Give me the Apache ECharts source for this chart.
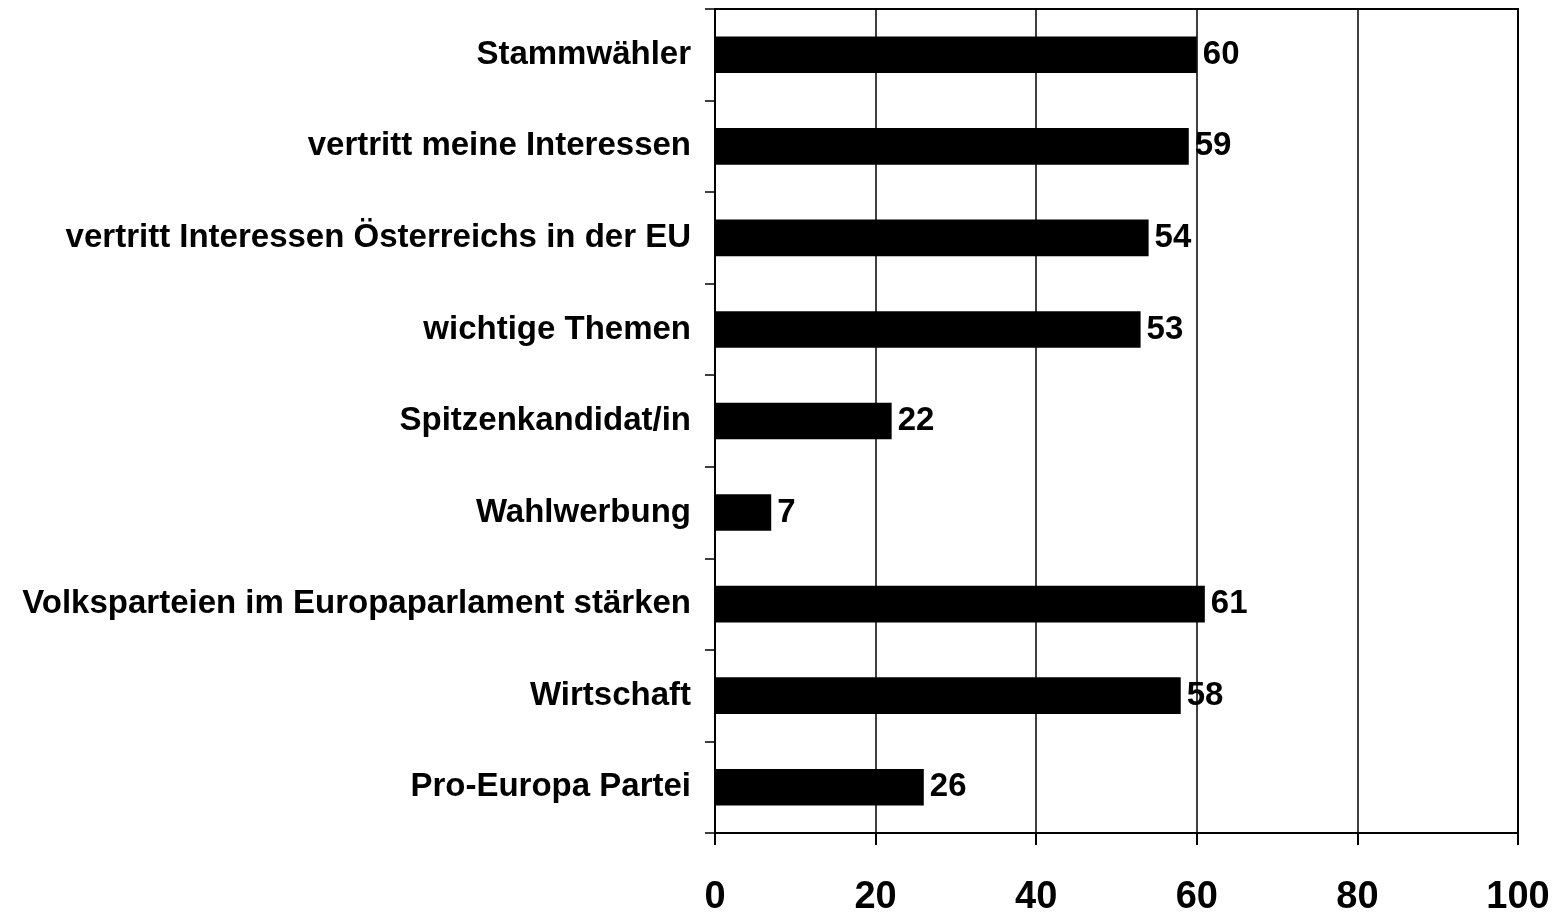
<!DOCTYPE html>
<html>
<head>
<meta charset="utf-8">
<script src="https://cdn.jsdelivr.net/npm/echarts@6/dist/echarts.min.js"></script>
<style>html,body{margin:0;padding:0;background:#fff}#c{width:1557px;height:917px}</style>
</head>
<body>
<div id="c"></div>
<script>
const categories = ["Stammwähler","vertritt meine Interessen","vertritt Interessen Österreichs in der EU","wichtige Themen","Spitzenkandidat/in","Wahlwerbung","Volksparteien im Europaparlament stärken","Wirtschaft","Pro-Europa Partei"];
const values = [60,59,54,53,22,7,61,58,26];
const xTicks = [0,20,40,60,80,100];

const chart = echarts.init(document.getElementById('c'), null, {renderer:'canvas'});
const FF = '"Liberation Sans", Arial, sans-serif';
chart.setOption({
  animation:false,
  backgroundColor:'#fff',
  grid:{left:715, top:9, right:39, bottom:80, show:true, borderColor:'#000', borderWidth:2, backgroundColor:'transparent'},
  xAxis:{
    type:'value', min:xTicks[0], max:xTicks[xTicks.length-1], interval:20,
    axisLine:{show:true, lineStyle:{color:'#000', width:2}},
    axisTick:{show:true, length:12, lineStyle:{color:'#000', width:2}},
    splitLine:{show:true, lineStyle:{color:'#000', width:1.5}},
    axisLabel:{color:'#000', fontFamily:FF, fontWeight:'bold', fontSize:38, margin:46}
  },
  yAxis:{
    type:'category', data:categories, inverse:true,
    axisLine:{show:true, lineStyle:{color:'#000', width:2}},
    axisTick:{show:true, length:10, lineStyle:{color:'#000', width:1.5}},
    axisLabel:{color:'#000', fontFamily:FF, fontWeight:'bold', fontSize:33, margin:24, padding:[4,0,0,0]}
  },
  series:[{
    type:'bar', data:values, barWidth:'40%',
    itemStyle:{color:'#000'},
    label:{show:true, position:'right', distance:6, color:'#000', fontFamily:FF, fontWeight:'bold', fontSize:33, padding:[4,0,0,0]}
  }]
});
</script>
</body>
</html>
